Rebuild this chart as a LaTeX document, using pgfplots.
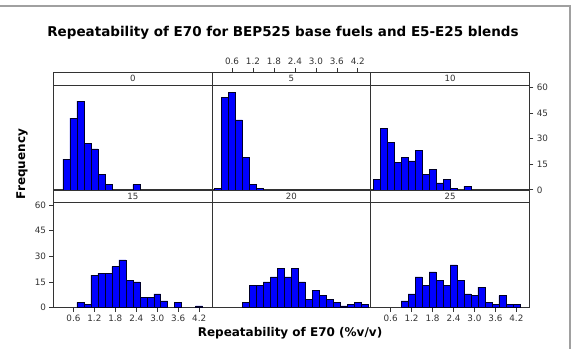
\documentclass[border=0pt]{standalone}
\usepackage{pgfplots}
\pgfplotsset{compat=1.18}
\usepackage{pgfplotstable}
\usepackage{fontspec}
\setmainfont{DejaVu Sans}
\definecolor{axgray}{HTML}{333333}
\definecolor{framegray}{HTML}{A0A0A0}

\pgfplotstableread{
x y
0.4 18
0.6 42
0.8 52
1.0 27
1.2 24
1.4 9
1.6 3
2.4 3
}\pzero
\pgfplotstableread{
x y
0.2 1
0.4 54
0.6 57
0.8 41
1.0 19
1.2 3
1.4 1
}\pfive
\pgfplotstableread{
x y
0.2 6
0.4 36
0.6 28
0.8 16
1.0 19
1.2 17
1.4 23
1.6 9
1.8 12
2.0 4
2.2 6
2.4 1
2.8 2
}\pten
\pgfplotstableread{
x y
0.8 3
1.0 2
1.2 19
1.4 20
1.6 20
1.8 24
2.0 28
2.2 16
2.4 15
2.6 6
2.8 6
3.0 8
3.2 4
3.6 3
4.2 1
}\pfifteen
\pgfplotstableread{
x y
1.0 3
1.2 13
1.4 13
1.6 15
1.8 18
2.0 23
2.2 18
2.4 23
2.6 15
2.8 5
3.0 10
3.2 7
3.4 5
3.6 3
3.8 1
4.0 2
4.2 3
4.4 2
}\ptwenty
\pgfplotstableread{
x y
1.0 4
1.2 8
1.4 18
1.6 13
1.8 21
2.0 16
2.2 13
2.4 25
2.6 16
2.8 8
3.0 7
3.2 12
3.4 3
3.6 2
3.8 7
4.0 2
4.2 2
}\ptwentyfive

\pgfplotsset{
  panel/.style={
    scale only axis, width=158.6bp, height=117.6bp,
    xmin=0.03, xmax=4.57, ymin=0, ymax=68.9,
    anchor=south west, clip=false,
    axis line style={axgray, line width=0.6pt},
    xtick=\empty, ytick=\empty,
    tick align=outside, major tick length=4bp,
    tick style={axgray, line width=0.6pt},
    tick label style={font=\fontsize{8.8bp}{10bp}\selectfont, text=axgray},
  },
  xt/.style={xtick={0.6,1.2,1.8,2.4,3.0,3.6,4.2},
    xticklabels={0.6,1.2,1.8,2.4,3.0,3.6,4.2}},
  yt/.style={ytick={0,15,30,45,60}, yticklabels={0,15,30,45,60}},
  hbar/.style={ybar, bar width=0.2, fill=blue, draw=black!85!blue, line width=0.5pt},
}
\newcommand{\strip}[1]{%
  \draw[axgray, line width=0.6pt] (axis cs:0.03,61.5) -- (axis cs:4.57,61.5);
  \node[font=\fontsize{8.6bp}{10bp}\selectfont, text=axgray] at (axis cs:2.3,65.2) {#1};
}

\begin{document}
\begin{tikzpicture}
\useasboundingbox (0,0) rectangle (578bp,349bp);
\draw[framegray, line width=1.2pt] (0,343bp) -- (570bp,343bp) -- (570bp,0);

% top row
\begin{axis}[panel, at={(53.5bp,159.2bp)}]
\addplot[hbar] table[x=x,y=y] {\pzero};
\strip{0}
\end{axis}
\begin{axis}[panel, at={(212.1bp,159.2bp)}, xt, xtick pos=upper, xticklabel pos=upper]
\addplot[hbar] table[x=x,y=y] {\pfive};
\strip{5}
\end{axis}
\begin{axis}[panel, at={(370.7bp,159.2bp)}, yt, ytick pos=right, yticklabel pos=right]
\addplot[hbar] table[x=x,y=y] {\pten};
\strip{10}
\end{axis}

% bottom row
\begin{axis}[panel, at={(53.5bp,41.4bp)}, xt, yt, xtick pos=lower, ytick pos=left]
\addplot[hbar] table[x=x,y=y] {\pfifteen};
\strip{15}
\end{axis}
\begin{axis}[panel, at={(212.1bp,41.4bp)}]
\addplot[hbar] table[x=x,y=y] {\ptwenty};
\strip{20}
\end{axis}
\begin{axis}[panel, at={(370.7bp,41.4bp)}, xt, xtick pos=lower]
\addplot[hbar] table[x=x,y=y] {\ptwentyfive};
\strip{25}
\end{axis}

\node[font=\bfseries\fontsize{13.5bp}{16bp}\selectfont] at (283bp,316bp) {Repeatability of E70 for BEP525 base fuels and E5-E25 blends};
\node[font=\bfseries\fontsize{12bp}{14bp}\selectfont] at (290bp,16bp) {Repeatability of E70 (\%v/v)};
\node[font=\bfseries\fontsize{12bp}{14bp}\selectfont, rotate=90] at (22bp,185bp) {Frequency};
\end{tikzpicture}
\end{document}
